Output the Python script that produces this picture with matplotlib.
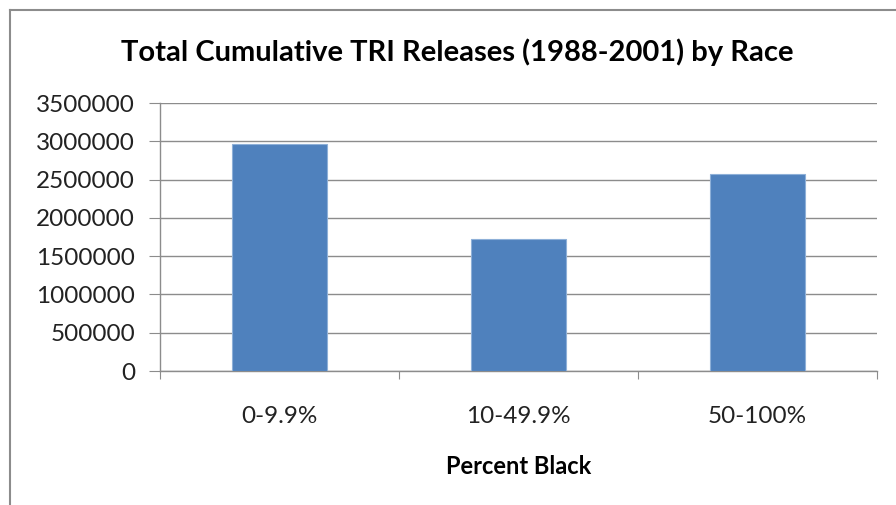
import matplotlib.pyplot as plt
from matplotlib.lines import Line2D

categories = ["0-9.9%", "10-49.9%", "50-100%"]
releases = [2970000, 1718000, 2570000]
y_ticks = [0, 500000, 1000000, 1500000, 2000000, 2500000, 3000000, 3500000]

plt.rcParams["font.family"] = ["Lato", "DejaVu Sans"]

fig = plt.figure(figsize=(8.96, 5.05), dpi=100)
ax = fig.add_axes([160 / 896, 1 - 371 / 505, 717 / 896, 268 / 505])

grid_col = "#8c8c8c"
x = range(len(categories))
ax.bar(x, releases, width=0.4, color="#4f81bd", edgecolor="#8eb0d8",
       linewidth=0.8, zorder=3)

ax.set_xlim(-0.5, 2.5)
ax.set_ylim(0, 3500000)
ax.set_yticks(y_ticks)
ax.set_yticklabels([str(v) for v in y_ticks], fontsize=17.5, color="#222222")
ax.yaxis.grid(True, color=grid_col, linewidth=1.0, zorder=0)

# category ticks between the bars, labels centred under each bar
ax.set_xticks([-0.5, 0.5, 1.5, 2.5])
ax.set_xticklabels([])
ax.set_xticks(list(x), minor=True)
ax.set_xticklabels(categories, minor=True, fontsize=17.5, color="#222222")
ax.tick_params(axis="x", which="major", length=6, color=grid_col, direction="out")
ax.tick_params(axis="x", which="minor", length=0, pad=25)
ax.tick_params(axis="y", length=8, color=grid_col, pad=10)

for side in ["top", "right"]:
    ax.spines[side].set_visible(False)
for side in ["left", "bottom"]:
    ax.spines[side].set_color(grid_col)
    ax.spines[side].set_linewidth(1.0)

ax.set_xlabel("Percent Black", fontsize=17, fontweight="bold", labelpad=20)
fig.text(457 / 896, 1 - 52 / 505, "Total Cumulative TRI Releases (1988-2001) by Race",
         ha="center", va="center", fontsize=21, fontweight="bold")

# chart border
fig.add_artist(Line2D([10 / 896, 10 / 896], [0, 1 - 10 / 505], transform=fig.transFigure,
                      color="#8c8c8c", linewidth=1.5))
fig.add_artist(Line2D([10 / 896, 1], [1 - 10 / 505, 1 - 10 / 505], transform=fig.transFigure,
                      color="#8c8c8c", linewidth=1.5))

fig.savefig("out.png", dpi=100, facecolor="white")
